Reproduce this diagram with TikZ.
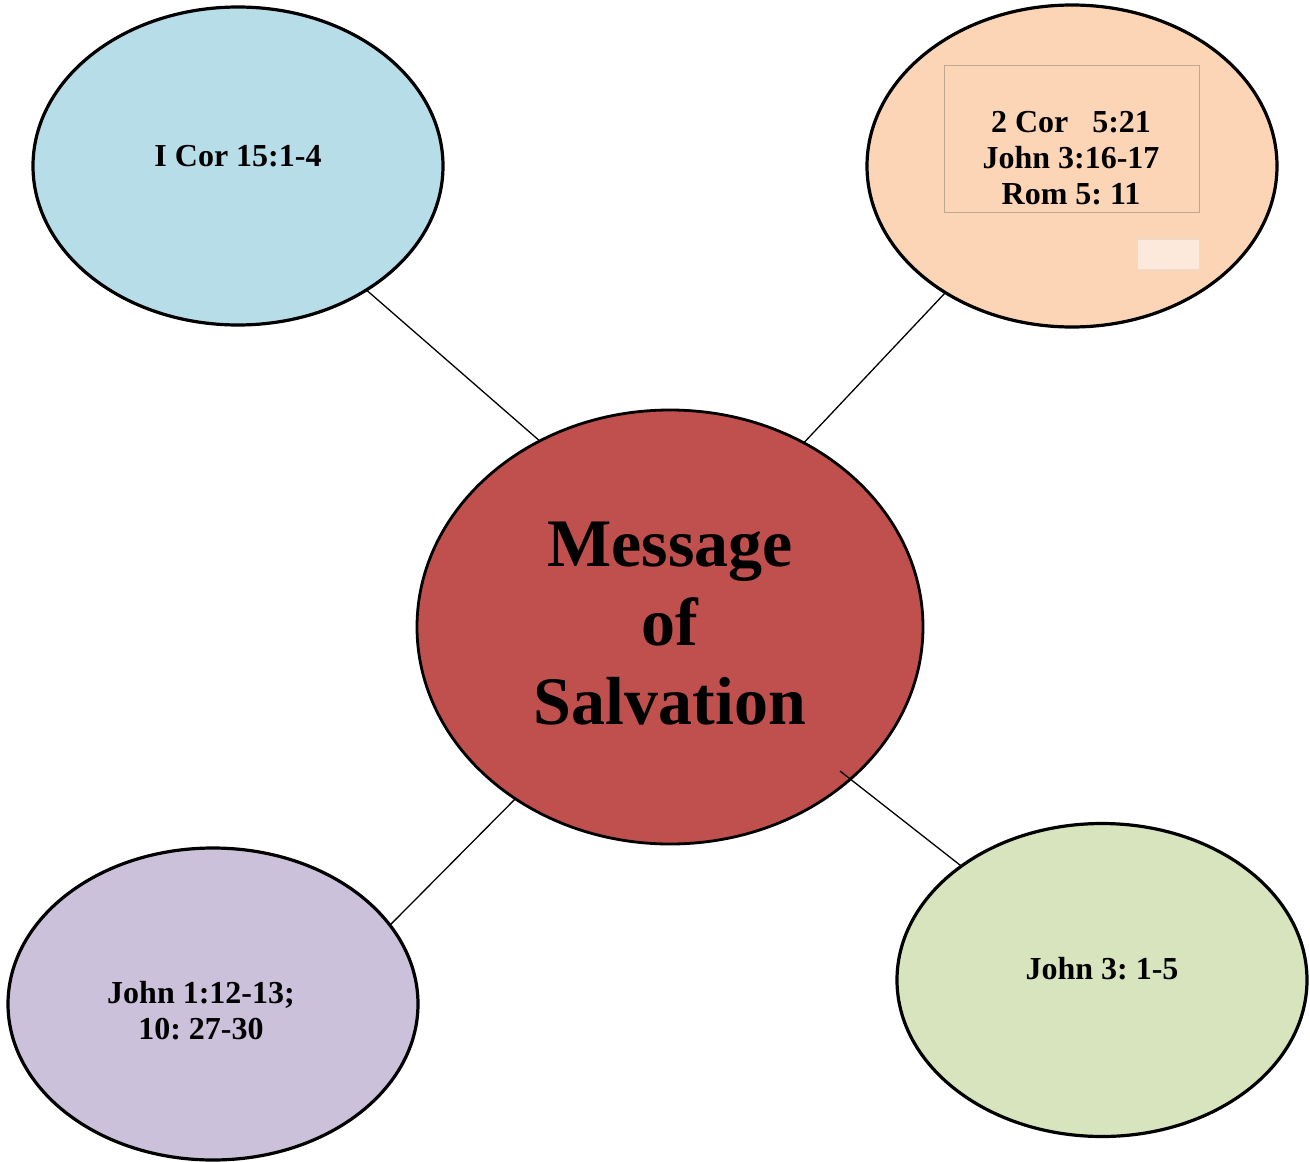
\documentclass[tikz,border=0pt]{standalone}
\usepackage{fontspec}
\setmainfont{Liberation Serif}
\frenchspacing
\usetikzlibrary{shapes.geometric}
\definecolor{cblue}{HTML}{B7DDE8}
\definecolor{corange}{HTML}{FBD5B5}
\definecolor{cred}{HTML}{C0504D}
\definecolor{cpurple}{HTML}{CCC1DA}
\definecolor{cgreen}{HTML}{D7E4BD}
\definecolor{boxline}{HTML}{C0A890}
\definecolor{boxfill}{HTML}{FCE9DB}
\tikzset{
  bubble/.style={ellipse, draw=black, line width=3.2pt, inner sep=0pt, outer sep=0pt},
  smalltxt/.style={font=\fontsize{32}{36}\selectfont\bfseries\frenchspacing, inner sep=0pt, align=center},
  bigtxt/.style={font=\fontsize{68}{79}\selectfont\bfseries, inner sep=0pt, align=center},
  link/.style={draw=black, line width=1.3pt}
}
\begin{document}
\begin{tikzpicture}[x=1pt,y=-1pt]
\useasboundingbox[fill=white] (0,0) rectangle (1310,1162);
% ellipses
\node[bubble, fill=cblue, minimum width=410pt, minimum height=318pt] (tl) at (238,166) {};
\node[bubble, fill=corange, minimum width=410pt, minimum height=322pt] (tr) at (1072,166) {};
\node[bubble, fill=cred, line width=2.8pt, minimum width=506pt, minimum height=434pt] (c) at (670,627) {};
\node[bubble, fill=cpurple, minimum width=410pt, minimum height=312pt] (bl) at (213,1004) {};
\node[bubble, fill=cgreen, minimum width=410pt, minimum height=313pt] (br) at (1102,980) {};
% boxes inside orange ellipse
\node[draw=boxline, line width=0.8pt, minimum width=255pt, minimum height=147pt, inner sep=0pt] (trbox) at (1071.5,138.5) {};
\node[draw=boxline!40, fill=boxfill, line width=0.6pt, minimum width=62pt, minimum height=30pt, inner sep=0pt] (trsmall) at (1168,254) {};
% texts
\node[smalltxt, anchor=base] (tltext) at (238,166) {I Cor 15:1-4};
\node[smalltxt, anchor=center] (trtext) at (1071,158.5) {2 Cor\ \ \ 5:21\\John 3:16-17\\Rom 5: 11};
\node[bigtxt, anchor=center] (ctext) at (670,624) {Message\\of\\Salvation};
\node[smalltxt, anchor=center] (bltext) at (201,1011) {John 1:12-13;\\10: 27-30};
\node[smalltxt, anchor=base] (brtext) at (1102,979) {John 3: 1-5};
% connectors
\coordinate (brstart) at (840,771);
\draw[link] (tl.-44) -- (c.125);
\draw[link] (tr.-135) -- (c.54.6);
\draw[link] (c.-132) -- (bl.24.8);
\draw[link] (brstart) -- (br.141.6);
\end{tikzpicture}
\end{document}
